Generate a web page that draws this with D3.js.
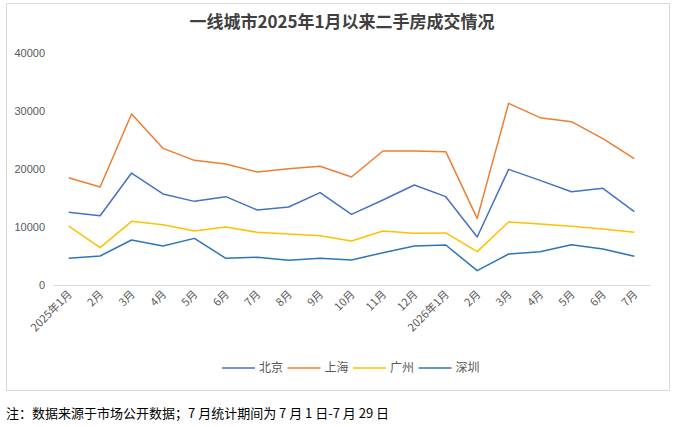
<!DOCTYPE html>
<html>
<head>
<meta charset="utf-8">
<script src="https://cdn.jsdelivr.net/npm/d3@7/dist/d3.min.js"></script>
<style>
  body { margin: 0; background: #fff; }
  svg text { font-family: "Noto Sans CJK SC", "Microsoft YaHei", sans-serif; }
</style>
</head>
<body>
<svg id="chart" width="678" height="427"></svg>
<script>
// months since Jan 2025
var months = ["2025年1月","2月","3月","4月","5月","6月","7月","8月","9月","10月","11月","12月",
              "2026年1月","2月","3月","4月","5月","6月","7月"];
var cities = ["北京","上海","广州","深圳"];
var colors = ["#4472C4","#ED7D31","#FFC000","#2E75B6"];

var beijing   = [12530,11950,19310,15690,14420,15230,12930,13450,15920,12180,14650,17240,15230,8280,19940,18040,16090,16670,12640];
var shanghai  = [18500,16900,29480,23560,21490,20860,19480,20050,20460,18620,23100,23100,22990,11490,31320,28850,28160,25230,21780];
var guangzhou = [10170,6440,10980,10400,9310,10000,9080,8790,8510,7590,9310,8910,8970,5750,10860,10520,10110,9660,9080];
var shenzhen  = [4600,5000,7760,6720,8040,4600,4770,4250,4600,4310,5570,6720,6900,2470,5340,5750,6950,6210,4940];

var yTicks = [0,10000,20000,30000,40000];

var series = [beijing, shanghai, guangzhou, shenzhen];

var svg = d3.select("#chart");
var margin = {left: 53, right: 28, top: 53, bottom: 142};
var W = +svg.attr("width"), H = +svg.attr("height");
var plotW = W - margin.left - margin.right,
    plotH = H - margin.top - margin.bottom;

// chart frame
svg.append("rect")
    .attr("x", 6.5).attr("y", 3.5)
    .attr("width", 663).attr("height", 387)
    .attr("fill", "#fff")
    .attr("stroke", "#d9d9d9");

svg.append("text")
    .attr("x", 342).attr("y", 28)
    .attr("text-anchor", "middle")
    .attr("font-size", "17px")
    .attr("font-weight", "bold")
    .attr("fill", "#404040")
    .text("一线城市2025年1月以来二手房成交情况");

var x = d3.scaleBand().domain(d3.range(months.length)).range([0, plotW]);
var y = d3.scaleLinear().domain([0, 40000]).range([plotH, 0]);

var g = svg.append("g").attr("transform", "translate(" + margin.left + "," + margin.top + ")");

// y axis labels
var yAxis = g.append("g")
    .call(d3.axisLeft(y).tickValues(yTicks).tickSize(0).tickPadding(8).tickFormat(d3.format("d")));
yAxis.select(".domain").remove();
yAxis.selectAll("text")
    .attr("font-size", "11px")
    .attr("fill", "#595959")
    .style("font-family", "'Liberation Sans', Arial, sans-serif");

// x axis
var xAxis = g.append("g")
    .attr("transform", "translate(0," + plotH + ")")
    .call(d3.axisBottom(x).tickSize(0).tickPadding(0).tickFormat(function(i){ return months[i]; }));
xAxis.select(".domain").attr("stroke", "#d9d9d9").attr("stroke-width", 1);
xAxis.selectAll("text")
    .attr("font-size", "11px")
    .attr("fill", "#595959")
    .attr("text-anchor", "end")
    .attr("dy", "0")
    .attr("transform", "translate(4,10) rotate(-45)");

var line = d3.line()
    .x(function(d, i){ return x(i) + x.bandwidth() / 2; })
    .y(function(d){ return y(d); });

series.forEach(function(s, k){
    g.append("path")
        .datum(s)
        .attr("fill", "none")
        .attr("stroke", colors[k])
        .attr("stroke-width", 1.5)
        .attr("stroke-linejoin", "round")
        .attr("d", line);
});

// legend
var legendX = [222, 287.5, 353, 418.5];
var leg = svg.append("g").attr("transform", "translate(0,368)");
cities.forEach(function(c, k){
    leg.append("line")
        .attr("x1", legendX[k]).attr("x2", legendX[k] + 33)
        .attr("y1", 0).attr("y2", 0)
        .attr("stroke", colors[k]).attr("stroke-width", 1.5);
    leg.append("text")
        .attr("x", legendX[k] + 37).attr("y", 4)
        .attr("font-size", "12px")
        .attr("fill", "#595959")
        .text(c);
});

svg.append("text")
    .attr("x", 6).attr("y", 418)
    .attr("font-size", "13px")
    .attr("fill", "#000")
    .text("注：数据来源于市场公开数据；7 月统计期间为 7 月 1 日-7 月 29 日");
</script>
</body>
</html>
